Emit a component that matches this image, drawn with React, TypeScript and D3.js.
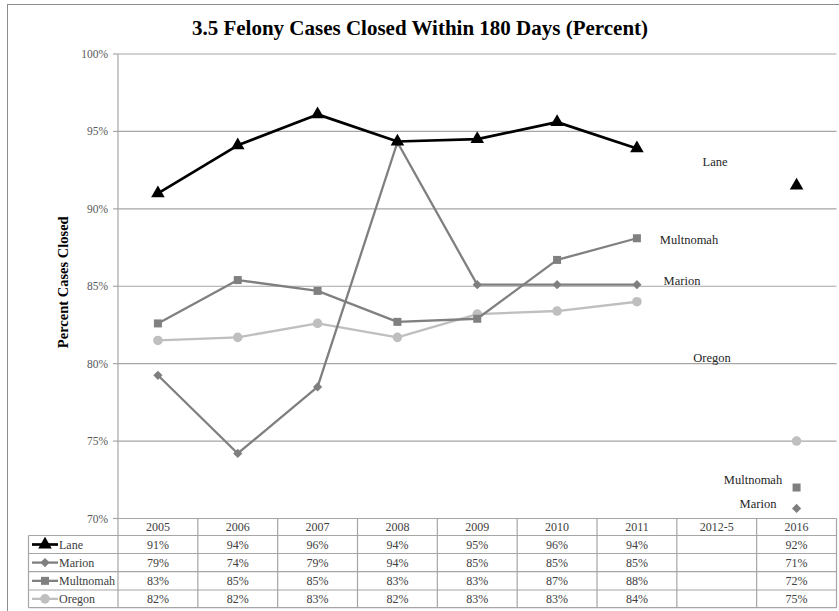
import React from "react";
import * as d3 from "d3";

const categories = ["2005", "2006", "2007", "2008", "2009", "2010", "2011", "2012-5", "2016"];
const laneValues = [91.0, 94.1, 96.1, 94.35, 94.5, 95.6, 93.9, null, 91.5];
const marionValues = [79.25, 74.2, 78.5, 94.3, 85.1, 85.1, 85.1, null, 70.65];
const multnomahValues = [82.6, 85.4, 84.7, 82.7, 82.9, 86.7, 88.1, null, 72.0];
const oregonValues = [81.5, 81.7, 82.6, 81.7, 83.2, 83.4, 84.0, null, 75.0];

const laneLabels = ["91%", "94%", "96%", "94%", "95%", "96%", "94%", "", "92%"];
const marionLabels = ["79%", "74%", "79%", "94%", "85%", "85%", "85%", "", "71%"];
const multnomahLabels = ["83%", "85%", "85%", "83%", "83%", "87%", "88%", "", "72%"];
const oregonLabels = ["82%", "82%", "83%", "82%", "83%", "83%", "84%", "", "75%"];

const yTicks = [70, 75, 80, 85, 90, 95, 100];

const seriesNames = ["Lane", "Marion", "Multnomah", "Oregon"];

const FONT = "'Liberation Serif', 'DejaVu Serif', serif";

type Series = {
  name: string;
  values: (number | null)[];
  labels: string[];
  color: string;
  width: number;
  marker: "triangle" | "diamond" | "square" | "circle";
};

const series: Series[] = [
  { name: seriesNames[0], values: laneValues, labels: laneLabels, color: "#000000", width: 2.7, marker: "triangle" },
  { name: seriesNames[1], values: marionValues, labels: marionLabels, color: "#7f7f7f", width: 2.3, marker: "diamond" },
  { name: seriesNames[2], values: multnomahValues, labels: multnomahLabels, color: "#808080", width: 2.3, marker: "square" },
  { name: seriesNames[3], values: oregonValues, labels: oregonLabels, color: "#bfbfbf", width: 2.3, marker: "circle" },
];

const markerPath = (m: Series["marker"]) => {
  if (m === "diamond") {
    const r = 4.6;
    return `M0,${-r}L${r},0L0,${r}L${-r},0Z`;
  }
  const sym = m === "triangle" ? d3.symbolTriangle : m === "square" ? d3.symbolSquare : d3.symbolCircle;
  const size = m === "triangle" ? 80 : m === "square" ? 64 : 72;
  return d3.symbol().type(sym).size(size)() as string;
};

export default function App() {
  const W = 839;
  const H = 611;
  const left = 118;
  const right = 836.5;
  const top = 54;
  const bottom = 518.5;

  const x = d3.scaleBand<string>().domain(categories).range([left, right]);
  const y = d3.scaleLinear().domain([70, 100]).range([bottom, top]);
  const cx = (c: string) => (x(c) as number) + x.bandwidth() / 2;

  const rowTops = [bottom, 535.5, 553.5, 571.7, 590, 607.7];
  const legendLeft = 28.5;

  const line = d3
    .line<number | null>()
    .defined((d) => d !== null)
    .x((_, i) => cx(categories[i]))
    .y((d) => y(d as number));

  return (
    <svg width={W} height={H} style={{ position: "absolute", left: 0, top: 0, background: "#fff" }}>
      <rect x={7.5} y={4.5} width={840} height={620} fill="#fff" stroke="#8c8c8c" strokeWidth={1} />
      <text x={420} y={35} textAnchor="middle" fontFamily={FONT} fontWeight="bold" fontSize={21} fill="#000">
        3.5 Felony Cases Closed Within 180 Days (Percent)
      </text>

      {/* gridlines */}
      {yTicks.map((t) => (
        <g key={t}>
          {t !== 70 && (
            <line x1={left} x2={right} y1={y(t)} y2={y(t)} stroke="#a6a6a6" strokeWidth={1.2} />
          )}
          <line x1={left - 5} x2={left} y1={y(t)} y2={y(t)} stroke="#a6a6a6" strokeWidth={1.2} />
          <text
            x={left - 10}
            y={y(t)}
            dy="0.35em"
            textAnchor="end"
            fontFamily={FONT}
            fontSize={11.5}
            fill="#595959"
          >
            {t}%
          </text>
        </g>
      ))}
      <line x1={left} x2={left} y1={top} y2={bottom} stroke="#a6a6a6" strokeWidth={1.2} />

      <text
        transform={`translate(68,${(top + bottom) / 2 - 4}) rotate(-90)`}
        textAnchor="middle"
        fontFamily={FONT}
        fontWeight="bold"
        fontSize={14.5}
        fill="#000"
      >
        Percent Cases Closed
      </text>

      {/* table */}
      <g>
        <line x1={left} x2={right} y1={rowTops[0]} y2={rowTops[0]} stroke="#a6a6a6" strokeWidth={1.2} />
        {rowTops.slice(1).map((ry, i) => (
          <line key={i} x1={legendLeft} x2={right} y1={ry} y2={ry} stroke="#a6a6a6" strokeWidth={1.2} />
        ))}
        <line x1={legendLeft} x2={legendLeft} y1={rowTops[1]} y2={rowTops[5]} stroke="#a6a6a6" strokeWidth={1.2} />
        {categories.map((c) => (
          <line
            key={c}
            x1={x(c) as number}
            x2={x(c) as number}
            y1={rowTops[0]}
            y2={rowTops[5]}
            stroke="#a6a6a6"
            strokeWidth={1.2}
          />
        ))}
        <line x1={right} x2={right} y1={rowTops[0]} y2={rowTops[5]} stroke="#a6a6a6" strokeWidth={1.2} />
        {categories.map((c) => (
          <text
            key={c}
            x={cx(c)}
            y={(rowTops[0] + rowTops[1]) / 2}
            dy="0.35em"
            textAnchor="middle"
            fontFamily={FONT}
            fontSize={12}
            fill="#404040"
          >
            {c}
          </text>
        ))}
        {series.map((s, si) => {
          const cy = (rowTops[si + 1] + rowTops[si + 2]) / 2;
          return (
            <g key={s.name}>
              <line x1={32} x2={58} y1={cy} y2={cy} stroke={s.color} strokeWidth={s.width} />
              <path d={markerPath(s.marker)} transform={`translate(45,${cy})`} fill={s.color} />
              <text x={59} y={cy} dy="0.35em" fontFamily={FONT} fontSize={12} fill="#404040">
                {s.name}
              </text>
              {s.labels.map((l, i) => (
                <text
                  key={i}
                  x={cx(categories[i])}
                  y={cy}
                  dy="0.35em"
                  textAnchor="middle"
                  fontFamily={FONT}
                  fontSize={12}
                  fill="#404040"
                >
                  {l}
                </text>
              ))}
            </g>
          );
        })}
      </g>

      {/* series lines, drawn back to front */}
      {[...series].reverse().map((s) => (
        <g key={s.name}>
          <path d={line(s.values.slice(0, 7)) as string} fill="none" stroke={s.color} strokeWidth={s.width} strokeLinejoin="round" />
          {s.values.map((v, i) =>
            v === null ? null : (
              <path key={i} d={markerPath(s.marker)} transform={`translate(${cx(categories[i])},${y(v)})`} fill={s.color} />
            )
          )}
        </g>
      ))}

      {/* series annotations */}
      <g fontFamily={FONT} fontSize={12.5} fill="#262626" textAnchor="middle">
        <text x={715} y={162} dy="0.35em">Lane</text>
        <text x={689} y={240} dy="0.35em">Multnomah</text>
        <text x={682} y={281} dy="0.35em">Marion</text>
        <text x={712} y={358} dy="0.35em">Oregon</text>
        <text x={753} y={480} dy="0.35em">Multnomah</text>
        <text x={758} y={504} dy="0.35em">Marion</text>
      </g>
    </svg>
  );
}
